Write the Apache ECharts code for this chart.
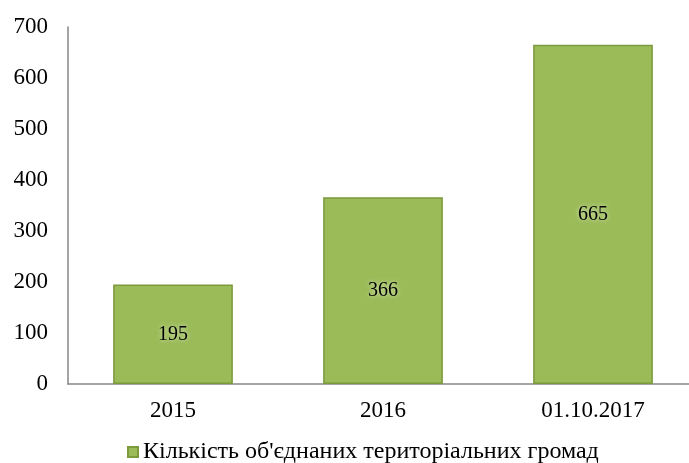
<!DOCTYPE html>
<html>
<head>
<meta charset="utf-8">
<script src="https://cdn.jsdelivr.net/npm/echarts@6/dist/echarts.min.js"></script>
<style>
  html, body { margin: 0; padding: 0; background: #fff; overflow: hidden; }
  /* вісь X у оригіналі виходить за правий край, тому контейнер трохи ширший */
  #chart { width: 698px; height: 463px; }
</style>
</head>
<body>
<div id="chart"></div>
<script>
// дані з діаграми
const categories = ['2015', '2016', '01.10.2017'];
const values = [195, 366, 665];
const seriesName = 'Кількість об\'єднаних територіальних громад';

const serif = '"Liberation Serif", "DejaVu Serif", serif';

const chart = echarts.init(document.getElementById('chart'));

const option = {
    animation: false,
    grid: {
        left: 68,
        right: 0,
        top: 27,
        bottom: 79,
        containLabel: false
    },
    legend: {
        bottom: -6,
        left: 122,
        itemWidth: 10,
        itemHeight: 10,
        itemGap: 8,
        icon: 'rect',
        textStyle: { fontFamily: serif, fontSize: 24, color: '#000' },
        data: [seriesName]
    },
    xAxis: {
        type: 'category',
        data: categories,
        axisLine: { lineStyle: { color: '#868686', width: 1.5 } },
        axisTick: { show: false },
        axisLabel: { fontFamily: serif, fontSize: 23, color: '#000', margin: 15 }
    },
    yAxis: {
        type: 'value',
        min: 0,
        max: 700,
        interval: 100,
        axisLine: { show: true, lineStyle: { color: '#868686', width: 1.5 } },
        axisTick: { show: false },
        splitLine: { show: false },
        axisLabel: { fontFamily: serif, fontSize: 23, color: '#000', margin: 20 }
    },
    series: [
        {
            name: seriesName,
            type: 'bar',
            data: values,
            barCategoryGap: '43%',
            itemStyle: {
                color: '#9BBB59',
                borderColor: '#7A9A3C',
                borderWidth: 1.5
            },
            label: {
                show: true,
                position: 'inside',
                fontFamily: serif,
                fontSize: 20,
                color: '#000',
                textShadowColor: 'rgba(235,245,215,0.9)',
                textShadowBlur: 4
            }
        }
    ]
};

chart.setOption(option);
</script>
</body>
</html>
